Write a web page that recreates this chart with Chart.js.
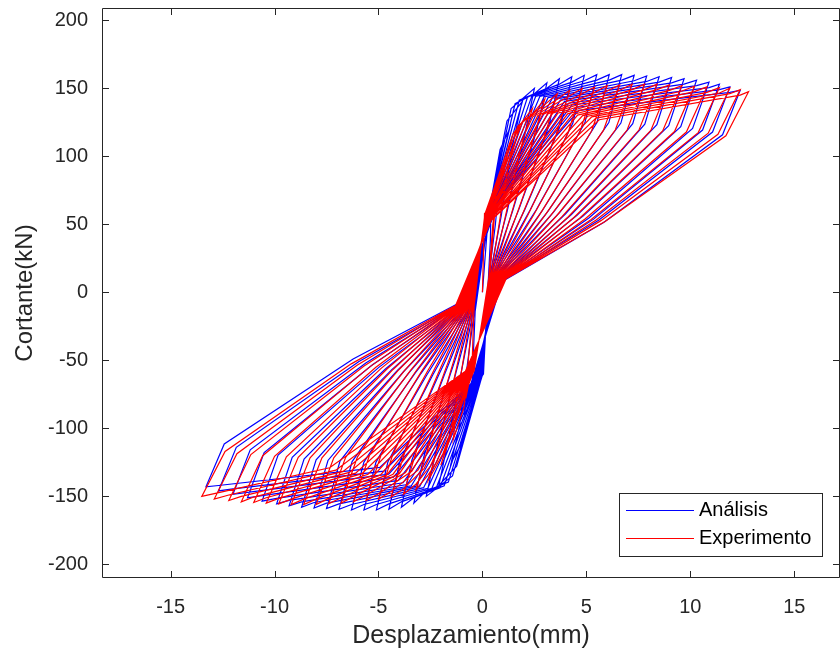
<!DOCTYPE html>
<html><head><meta charset="utf-8">
<script src="https://cdn.jsdelivr.net/npm/chart.js@4.4.1/dist/chart.umd.min.js"></script>
<style>html,body{margin:0;padding:0;background:#fff;}#wrap{width:840px;height:660px;}</style>
</head><body><div id="wrap"><canvas id="c" width="840" height="660"></canvas></div>
<script>
// ---- Análisis (blue): one entry per cycle, [displacement mm, shear kN] ----
const analisisPrePos = [[0.3,60],[0.33,60],[0.35,61],[0.38,61],[0.4,62],[0.43,62],[0.45,62],[0.48,63],[0.5,63],[0.53,63],[0.55,64],[0.58,64],[0.6,64],[0.63,65],[0.65,65],[0.68,65],[0.7,66],[0.73,66],[0.75,66],[0.78,67],[0.8,67]];
const analisisKneePos = [[0.62,70],[0.85,105],[1.18,126],[1.38,135],[1.57,138.6],[1.77,141.3],[1.97,142.7],[2.17,143.6],[2.37,144],[2.56,144],[2.76,144],[2.96,143.6],[3.16,143.1],[3.36,142.7],[3.55,142.2],[3.75,141.3],[3.95,140.4],[4.15,139],[4.31,137.7],[4.48,135.9],[4.64,133.7]];
const analisisAimPos = [null,null,null,null,[2.5,146],[3.1,150],[3.7,153],[4.3,154.5],[4.9,155.5],[5.5,156],[6.1,156],[6.7,156],[7.3,155.5],[7.9,155],[8.5,154.5],[9.1,154],[9.7,153],[10.3,152],[10.9,150.5],[11.4,149],[11.9,147]];
const analisisPeakPos = [[0.8,85],[1.3,120],[1.9,140],[2.5,150],[3.1,154],[3.7,157],[4.3,158.5],[4.9,159.5],[5.5,160],[6.1,160],[6.7,160],[7.3,159.5],[7.9,159],[8.5,158.5],[9.1,158],[9.7,157],[10.3,156],[10.9,154.5],[11.4,153],[11.9,151],[12.4,148.5]];
const analisisUnloadPos = [[0.42,66.3],[0.9,93.6],[1.47,109.2],[2.05,117],[2.63,120.1],[3.2,122.5],[3.78,123.6],[4.35,124.4],[4.93,124.8],[5.51,124.8],[6.08,124.8],[6.66,124.4],[7.23,124],[7.81,123.6],[8.39,123.2],[8.96,122.5],[9.54,121.7],[10.11,120.5],[10.59,119.3],[11.07,117.8],[11.55,115.8]];
const analisisLowerPos = [[0.38,37.6],[0.62,49.5],[0.9,55.8],[1.18,59],[1.46,60.1],[1.74,60.4],[2.03,60.6],[2.3,60.7],[2.59,60.7],[2.87,59.8],[3.15,59.5],[3.43,59.1],[3.71,58.6],[3.99,57.6],[4.28,57.2],[4.55,56.6],[4.84,56],[5.12,54.7],[5.35,53.8],[5.59,53],[5.83,51.3]];
const analisisZeroPos = [[0.3,14],[0.33,14],[0.37,13],[0.4,13],[0.43,13],[0.46,12],[0.5,12],[0.53,12],[0.56,12],[0.59,11],[0.63,11],[0.66,11],[0.69,11],[0.72,10],[0.76,10],[0.79,10],[0.82,10],[0.85,9],[0.89,9],[0.92,9],[0.95,8]];
const analisisPreNeg = [[0.05,-60],[0.02,-60],[-0.01,-61],[-0.04,-61],[-0.07,-62],[-0.1,-62],[-0.13,-62],[-0.16,-63],[-0.19,-63],[-0.22,-63],[-0.25,-64],[-0.28,-64],[-0.31,-64],[-0.34,-65],[-0.37,-65],[-0.4,-65],[-0.43,-66],[-0.46,-66],[-0.49,-66],[-0.52,-67],[-0.55,-67]];
const analisisKneeNeg = [[-0.68,-75],[-1.05,-112.5],[-1.24,-127.8],[-1.44,-135],[-1.64,-139.5],[-1.84,-142.2],[-2.04,-143.6],[-2.23,-144],[-2.43,-144],[-2.63,-144],[-2.83,-143.6],[-3.03,-143.1],[-3.22,-142.7],[-3.42,-142.2],[-3.62,-141.3],[-3.82,-140],[-4.05,-138.2],[-4.28,-135.9],[-4.51,-133.7],[-4.74,-131.4],[-4.94,-128.7]];
const analisisAimNeg = [null,null,null,null,[-2.7,-146],[-3.3,-151],[-3.9,-154],[-4.5,-155.5],[-5.1,-156],[-5.7,-156],[-6.3,-156],[-6.9,-155.5],[-7.5,-155],[-8.1,-154.5],[-8.7,-154],[-9.3,-153],[-9.9,-151.5],[-10.6,-149.5],[-11.3,-147],[-12,-144.5],[-12.7,-142]];
const analisisPeakNeg = [[-0.9,-90],[-1.5,-125],[-2.1,-142],[-2.7,-150],[-3.3,-155],[-3.9,-158],[-4.5,-159.5],[-5.1,-160],[-5.7,-160],[-6.3,-160],[-6.9,-159.5],[-7.5,-159],[-8.1,-158.5],[-8.7,-158],[-9.3,-157],[-9.9,-155.5],[-10.6,-153.5],[-11.3,-151],[-12,-148.5],[-12.7,-146],[-13.3,-143]];
const analisisUnloadNeg = [[-0.51,-70.2],[-1.09,-97.5],[-1.67,-110.8],[-2.24,-117],[-2.82,-120.9],[-3.39,-123.2],[-3.97,-124.4],[-4.55,-124.8],[-5.12,-124.8],[-5.7,-124.8],[-6.27,-124.4],[-6.85,-124],[-7.43,-123.6],[-8,-123.2],[-8.58,-122.5],[-9.15,-121.3],[-9.83,-119.7],[-10.5,-117.8],[-11.17,-115.8],[-11.84,-113.9],[-12.42,-111.5]];
const analisisLowerNeg = [[-0.42,-39.2],[-0.71,-51.2],[-0.99,-56.4],[-1.27,-58.9],[-1.55,-60.4],[-1.83,-60.6],[-2.11,-60.9],[-2.39,-60.8],[-2.67,-60.6],[-2.96,-59.7],[-3.23,-59.2],[-3.52,-58.8],[-3.8,-58.4],[-4.08,-57.3],[-4.36,-56.8],[-4.64,-56],[-4.97,-55],[-5.29,-53.3],[-5.61,-52],[-5.94,-50.8],[-6.22,-49]];
const analisisZeroNeg = [[-0.35,-14],[-0.39,-14],[-0.43,-13],[-0.47,-13],[-0.51,-13],[-0.55,-12],[-0.59,-12],[-0.63,-12],[-0.67,-12],[-0.71,-11],[-0.75,-11],[-0.79,-11],[-0.83,-11],[-0.87,-10],[-0.91,-10],[-0.95,-10],[-0.99,-10],[-1.03,-9],[-1.07,-9],[-1.11,-9],[-1.15,-8]];

// ---- Experimento (red) ----
const experimentoPrePos = [[0.1,58],[0.12,58],[0.13,58],[0.15,58],[0.16,57],[0.18,57],[0.19,57],[0.21,57],[0.22,56],[0.24,56],[0.25,56],[0.27,56],[0.28,55],[0.3,55],[0.31,55],[0.33,55],[0.34,54],[0.36,54],[0.37,54],[0.39,54],[0.4,53],[0.42,53]];
const experimentoKneePos = [[0.5,60],[0.98,86],[1.22,104.9],[1.46,116.1],[1.7,122.1],[1.94,125.6],[2.18,127.7],[2.42,129],[2.66,129.9],[2.9,130.7],[3.14,131.2],[3.38,131.6],[3.62,131.6],[3.86,131.6],[4.1,131.2],[4.34,130.7],[4.58,130.3],[4.82,129.9],[5.06,129.4],[5.26,129],[5.46,128.1],[5.62,126.9]];
const experimentoAimPos = [null,null,null,null,[2.4,131],[3,138],[3.6,142],[4.2,144.5],[4.8,146],[5.4,147],[6,148],[6.6,148.5],[7.2,149],[7.8,149],[8.4,149],[9,148.5],[9.6,148],[10.2,147.5],[10.8,147],[11.4,146.5],[11.9,146],[12.4,145]];
const experimentoPeakPos = [[0.7,70],[1.2,100],[1.8,122],[2.4,135],[3,142],[3.6,146],[4.2,148.5],[4.8,150],[5.4,151],[6,152],[6.6,152.5],[7.2,153],[7.8,153],[8.4,153],[9,152.5],[9.6,152],[10.2,151.5],[10.8,151],[11.4,150.5],[11.9,150],[12.4,149],[12.8,147.5]];
const experimentoUnloadPos = [[0.5,50],[0.69,78],[1.26,95.2],[1.83,105.3],[2.4,110.8],[2.97,113.9],[3.54,115.8],[4.11,117],[4.68,117.8],[5.25,118.6],[5.82,119],[6.39,119.3],[6.96,119.3],[7.53,119.3],[8.1,119],[8.67,118.6],[9.24,118.2],[9.81,117.8],[10.38,117.4],[10.86,117],[11.33,116.2],[11.71,115.1]];
const experimentoLowerPos = [[0.39,28],[0.5,40.4],[0.78,47.9],[1.05,52.2],[1.33,54.4],[1.61,55.6],[1.89,56.1],[2.17,56.3],[2.45,56.5],[2.73,56.6],[3,56.4],[3.28,56.4],[3.56,56.1],[3.84,55.8],[4.12,55.4],[4.4,55],[4.67,54.5],[4.95,54.1],[5.23,53.6],[5.47,53.2],[5.7,52.7],[5.9,52]];
const experimentoZeroPos = [[0.3,10],[0.34,10],[0.38,10],[0.42,10],[0.46,10],[0.5,10],[0.54,10],[0.58,10],[0.62,10],[0.66,10],[0.7,10],[0.74,10],[0.78,10],[0.82,10],[0.86,10],[0.9,10],[0.94,10],[0.98,10],[1.02,10],[1.06,10],[1.1,10],[1.14,10]];
const experimentoPreNeg = [[-0.4,-58],[-0.42,-58],[-0.44,-58],[-0.46,-58],[-0.48,-58],[-0.5,-58],[-0.52,-58],[-0.54,-58],[-0.56,-58],[-0.58,-58],[-0.6,-58],[-0.62,-58],[-0.64,-58],[-0.66,-58],[-0.68,-58],[-0.7,-58],[-0.72,-58],[-0.74,-58],[-0.76,-58],[-0.78,-58],[-0.8,-58],[-0.82,-58]];
const experimentoKneeNeg = [[-0.6,-60],[-1.3,-92.9],[-1.6,-109.2],[-1.9,-118.7],[-2.2,-124.7],[-2.5,-127.7],[-2.8,-129.4],[-3.1,-130.7],[-3.4,-131.6],[-3.7,-132.4],[-4,-133.3],[-4.3,-133.7],[-4.6,-134.2],[-4.9,-134.2],[-5.2,-134.2],[-5.5,-133.7],[-5.8,-133.3],[-6.1,-132.9],[-6.4,-132.4],[-6.7,-131.6],[-7.05,-130.7],[-7.35,-129]];
const experimentoAimNeg = [null,null,null,null,[-2.6,-134],[-3.2,-141],[-3.8,-144.5],[-4.4,-146.5],[-5,-148],[-5.6,-149],[-6.2,-150],[-6.8,-151],[-7.4,-151.5],[-8,-152],[-8.6,-152],[-9.2,-152],[-9.8,-151.5],[-10.4,-151],[-11,-150.5],[-11.6,-150],[-12.2,-149],[-12.9,-148]];
const experimentoPeakNeg = [[-0.8,-78],[-1.4,-108],[-2,-127],[-2.6,-138],[-3.2,-145],[-3.8,-148.5],[-4.4,-150.5],[-5,-152],[-5.6,-153],[-6.2,-154],[-6.8,-155],[-7.4,-155.5],[-8,-156],[-8.6,-156],[-9.2,-156],[-9.8,-155.5],[-10.4,-155],[-11,-154.5],[-11.6,-154],[-12.2,-153],[-12.9,-152],[-13.5,-150]];
const experimentoUnloadNeg = [[-0.5,-55],[-0.88,-84.2],[-1.45,-99.1],[-2.02,-107.6],[-2.59,-113.1],[-3.16,-115.8],[-3.73,-117.4],[-4.3,-118.6],[-4.87,-119.3],[-5.44,-120.1],[-6.01,-120.9],[-6.58,-121.3],[-7.15,-121.7],[-7.72,-121.7],[-8.29,-121.7],[-8.86,-121.3],[-9.43,-120.9],[-10,-120.5],[-10.57,-120.1],[-11.14,-119.3],[-11.81,-118.6],[-12.38,-117]];
const experimentoLowerNeg = [[-0.45,-30.3],[-0.64,-43.2],[-0.92,-49.6],[-1.21,-53.2],[-1.48,-55.4],[-1.77,-56.3],[-2.05,-56.8],[-2.33,-57.1],[-2.61,-57.1],[-2.89,-57.2],[-3.17,-57.3],[-3.46,-57.3],[-3.73,-57.2],[-4.02,-56.9],[-4.3,-56.7],[-4.58,-56.2],[-4.86,-55.7],[-5.14,-55.3],[-5.42,-54.8],[-5.71,-54.3],[-6.03,-53.6],[-6.31,-52.6]];
const experimentoZeroNeg = [[-0.4,-10],[-0.45,-10],[-0.49,-10],[-0.54,-10],[-0.58,-10],[-0.63,-10],[-0.67,-10],[-0.72,-10],[-0.76,-10],[-0.81,-10],[-0.85,-10],[-0.9,-10],[-0.94,-10],[-0.99,-10],[-1.03,-10],[-1.08,-10],[-1.12,-10],[-1.17,-10],[-1.21,-10],[-1.26,-10],[-1.3,-10],[-1.35,-10]];

const seriesLabels = ['Análisis', 'Experimento'];
const seriesColors = ['#0000ff', '#ff0000'];
const xTickValues = [-15, -10, -5, 0, 5, 10, 15];
const yTickValues = [-200, -150, -100, -50, 0, 50, 100, 150, 200];
const xTitle = 'Desplazamiento(mm)';
const yTitle = 'Cortante(kN)';

// order of the points inside one cycle
function buildLoops(parts) {
  const pts = [{x: 0, y: 0}];
  const n = parts[0].length;
  for (let i = 0; i < n; i++) {
    parts.forEach(arr => { const p = arr[i]; if (p) pts.push({x: p[0], y: p[1]}); });
  }
  return pts;
}

const analisisData = buildLoops([analisisPrePos, analisisKneePos, analisisAimPos, analisisPeakPos, analisisUnloadPos, analisisLowerPos, analisisZeroPos,
  analisisPreNeg, analisisKneeNeg, analisisAimNeg, analisisPeakNeg, analisisUnloadNeg, analisisLowerNeg, analisisZeroNeg]);
const experimentoData = buildLoops([experimentoPrePos, experimentoKneePos, experimentoAimPos, experimentoPeakPos, experimentoUnloadPos, experimentoLowerPos, experimentoZeroPos,
  experimentoPreNeg, experimentoKneeNeg, experimentoAimNeg, experimentoPeakNeg, experimentoUnloadNeg, experimentoLowerNeg, experimentoZeroNeg]);

const FONT = "'Liberation Sans', Arial, Helvetica, sans-serif";
const AXC = '#262626';

const boxPlugin = {
  id: 'matlabBox',
  afterDraw(chart) {
    const ctx = chart.ctx, a = chart.chartArea;
    const xs = chart.scales.x, ys = chart.scales.y;
    ctx.save();
    ctx.strokeStyle = AXC; ctx.lineWidth = 1;
    ctx.beginPath();
    ctx.moveTo(a.left + 0.5, a.top + 0.5); ctx.lineTo(a.right - 0.5, a.top + 0.5);
    ctx.lineTo(a.right - 0.5, a.bottom - 0.5); ctx.lineTo(a.left + 0.5, a.bottom - 0.5); ctx.closePath();
    const tl = 7;
    xTickValues.forEach(v => {
      const px = Math.round(xs.getPixelForValue(v)) + 0.5;
      ctx.moveTo(px, a.bottom); ctx.lineTo(px, a.bottom - tl);
      ctx.moveTo(px, a.top); ctx.lineTo(px, a.top + tl);
    });
    yTickValues.forEach(v => {
      const py = Math.round(ys.getPixelForValue(v)) + 0.5;
      ctx.moveTo(a.left, py); ctx.lineTo(a.left + tl, py);
      ctx.moveTo(a.right, py); ctx.lineTo(a.right - tl, py);
    });
    ctx.stroke();
    // legend (inside, bottom-right)
    const lx = a.right - 221, ly = a.bottom - 85, lw = 203, lh = 63;
    ctx.fillStyle = '#fff';
    ctx.fillRect(lx, ly, lw, lh);
    ctx.strokeStyle = AXC;
    ctx.strokeRect(lx + 0.5, ly + 0.5, lw, lh);
    ctx.font = '20px ' + FONT;
    ctx.textBaseline = 'middle';
    ctx.textAlign = 'left';
    chart.data.datasets.forEach((ds, i) => {
      const yy = ly + 17 + i * 28;
      ctx.strokeStyle = ds.borderColor; ctx.lineWidth = 1;
      ctx.beginPath(); ctx.moveTo(lx + 7, yy + 0.5); ctx.lineTo(lx + 75, yy + 0.5); ctx.stroke();
      ctx.fillStyle = '#000';
      ctx.fillText(ds.label, lx + 80, yy);
    });
    ctx.restore();
  }
};

new Chart(document.getElementById('c').getContext('2d'), {
  type: 'scatter',
  data: {
    datasets: [
      {label: seriesLabels[0], data: analisisData, showLine: true, borderColor: seriesColors[0], backgroundColor: seriesColors[0], borderWidth: 1.2, pointRadius: 0, tension: 0, order: 1},
      {label: seriesLabels[1], data: experimentoData, showLine: true, borderColor: seriesColors[1], backgroundColor: seriesColors[1], borderWidth: 1.2, pointRadius: 0, tension: 0, order: 0}
    ]
  },
  options: {
    responsive: false,
    animation: false,
    devicePixelRatio: 1,
    layout: {padding: {top: 8, right: 0, left: 0, bottom: 0}},
    plugins: {legend: {display: false}, tooltip: {enabled: false}},
    scales: {
      x: {
        type: 'linear', min: -18.3, max: 17.2,
        afterBuildTicks: s => { s.ticks = xTickValues.map(v => ({value: v})); },
        afterFit: s => { s.height = 82; s.paddingLeft = 0; s.paddingRight = 0; },
        grid: {display: false, drawTicks: false},
        border: {display: false},
        ticks: {color: AXC, font: {family: FONT, size: 20}, padding: 17, maxRotation: 0, autoSkip: false},
        title: {display: true, text: xTitle, color: AXC, font: {family: FONT, size: 25}, padding: {top: 0, bottom: 9}}
      },
      y: {
        type: 'linear', min: -210, max: 209,
        afterBuildTicks: s => { s.ticks = yTickValues.map(v => ({value: v})); },
        afterFit: s => { s.width = 102; s.paddingTop = 0; s.paddingBottom = 0; },
        grid: {display: false, drawTicks: false},
        border: {display: false},
        ticks: {color: AXC, font: {family: FONT, size: 20}, padding: 14, autoSkip: false},
        title: {display: true, text: yTitle, color: AXC, font: {family: FONT, size: 24}, padding: {top: 11, bottom: 0}}
      }
    }
  },
  plugins: [boxPlugin]
});
</script></body></html>
